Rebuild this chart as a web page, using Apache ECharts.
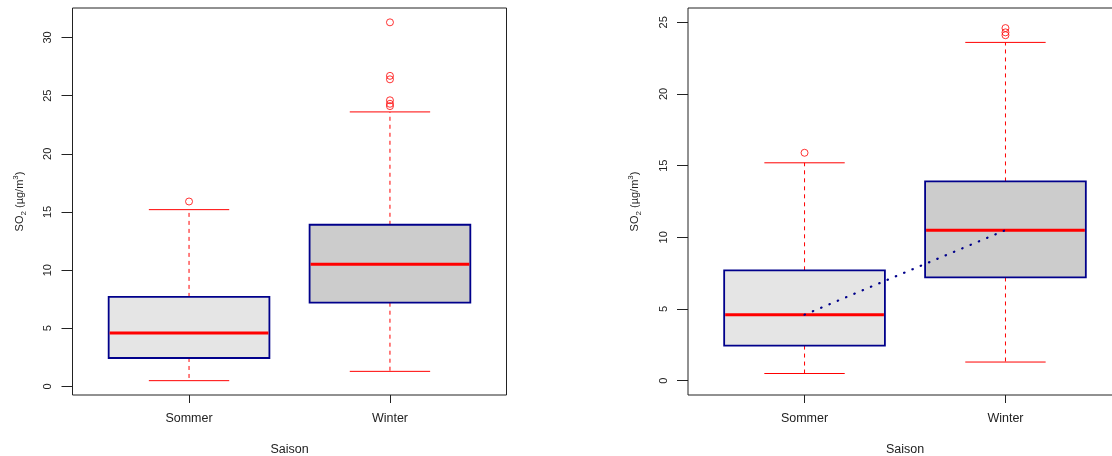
<!DOCTYPE html>
<html>
<head>
<meta charset="utf-8">
<script src="https://cdn.jsdelivr.net/npm/echarts@6/dist/echarts.min.js"></script>
<style>
  html, body { margin: 0; padding: 0; background: #fff; overflow: hidden; }
  #chart { width: 1140px; height: 456px; }
</style>
</head>
<body>
<div id="chart"></div>
<script>
// categories on the x axis (box positions 1 and 2)
const categories = ['Sommer', 'Winter']
const positions = [1, 2]
// [lower whisker, Q1, median, Q3, upper whisker]
const sommerStats = [0.5, 2.45, 4.6, 7.7, 15.2]
const winterStats = [1.3, 7.2, 10.5, 13.9, 23.6]
const sommerOutliers = [15.9]
const winterOutliers = [24.1, 24.3, 24.6, 26.4, 26.7, 31.3]
// y tick values
const leftTicks = [0, 5, 10, 15, 20, 25, 30]
const rightTicks = [0, 5, 10, 15, 20, 25]
const rightLimits = [0, 25]

const font = 'Liberation Sans, Arial, sans-serif'
const textColor = '#222'

// R style axis extension of 4 %
function extend(lo, hi) {
  const d = (hi - lo) * 0.04
  return [lo - d, hi + d]
}
const leftData = sommerStats.concat(winterStats, sommerOutliers, winterOutliers)
const leftRange = extend(Math.min(...leftData), Math.max(...leftData))
const rightRange = extend(rightLimits[0], rightLimits[1])
const xRange = extend(0.5, 2.5)

const boxData = [
  [positions[0]].concat(sommerStats),
  [positions[1]].concat(winterStats)
]
const boxFills = ['#e5e5e5', '#cccccc']
const outlierData = []
sommerOutliers.forEach(v => outlierData.push([positions[0], v]))
winterOutliers.forEach(v => outlierData.push([positions[1], v]))
const medianLine = boxData.map(d => [d[0], d[3]])

function renderBox(params, api) {
  const x = api.value(0)
  const low = api.coord([x, api.value(1)])
  const q1 = api.coord([x, api.value(2)])
  const med = api.coord([x, api.value(3)])
  const q3 = api.coord([x, api.value(4)])
  const high = api.coord([x, api.value(5)])
  const boxW = api.size([0.8, 0])[0]
  const capW = boxW / 2
  const cx = low[0]
  const whisker = { stroke: '#ff0000', lineWidth: 1, lineDash: [4, 4] }
  const cap = { stroke: '#ff0000', lineWidth: 1 }
  return {
    type: 'group',
    children: [
      { type: 'line', shape: { x1: cx, y1: q1[1], x2: cx, y2: low[1] }, style: whisker },
      { type: 'line', shape: { x1: cx, y1: q3[1], x2: cx, y2: high[1] }, style: whisker },
      { type: 'line', shape: { x1: cx - capW / 2, y1: low[1], x2: cx + capW / 2, y2: low[1] }, style: cap },
      { type: 'line', shape: { x1: cx - capW / 2, y1: high[1], x2: cx + capW / 2, y2: high[1] }, style: cap },
      {
        type: 'rect',
        shape: { x: cx - boxW / 2, y: q3[1], width: boxW, height: q1[1] - q3[1] },
        style: { fill: boxFills[params.dataIndex], stroke: '#00008b', lineWidth: 1.8 }
      },
      {
        type: 'line',
        shape: { x1: cx - boxW / 2 + 1, y1: med[1], x2: cx + boxW / 2 - 1, y2: med[1] },
        style: { stroke: '#ff0000', lineWidth: 3 }
      }
    ]
  }
}

function xAxisFor(gridIndex) {
  return {
    type: 'value',
    gridIndex,
    min: xRange[0],
    max: xRange[1],
    axisLine: { show: false, onZero: false },
    splitLine: { show: false },
    axisTick: { show: true, customValues: positions, length: 8, lineStyle: { color: textColor } },
    axisLabel: {
      customValues: positions,
      margin: 17,
      fontSize: 12.5,
      fontFamily: font,
      color: textColor,
      formatter: v => categories[Math.round(v) - 1]
    },
    name: 'Saison',
    nameLocation: 'middle',
    nameGap: 48,
    nameTextStyle: { fontSize: 12.5, fontFamily: font, color: textColor }
  }
}

function yAxisFor(gridIndex, range, ticks) {
  return {
    type: 'value',
    gridIndex,
    min: range[0],
    max: range[1],
    axisLine: { show: false, onZero: false },
    splitLine: { show: false },
    axisTick: { show: true, customValues: ticks, length: 11, lineStyle: { color: textColor } },
    axisLabel: {
      customValues: ticks,
      rotate: 90,
      margin: 19,
      fontSize: 11,
      fontFamily: font,
      color: textColor
    },
    name: '{a|SO}{sub|2}{a| (µg/m}{sup|3}{a|)}',
    nameLocation: 'middle',
    nameRotate: 90,
    nameGap: 45,
    nameTextStyle: {
      fontFamily: font,
      color: textColor,
      rich: {
        a: { fontSize: 11, fontFamily: font, color: textColor, lineHeight: 16 },
        sub: { fontSize: 8, fontFamily: font, color: textColor, verticalAlign: 'bottom', lineHeight: 16 },
        sup: { fontSize: 8, fontFamily: font, color: textColor, verticalAlign: 'top', lineHeight: 16 }
      }
    }
  }
}

const chart = echarts.init(document.getElementById('chart'))
const gridStyle = {
  show: true, borderColor: '#222', borderWidth: 1, backgroundColor: 'transparent',
  containLabel: false, outerBoundsMode: 'none'
}

chart.setOption({
  animation: false,
  grid: [
    Object.assign({ left: 72.5, top: 8, width: 434, height: 387 }, gridStyle),
    Object.assign({ left: 688, top: 8, width: 434, height: 387 }, gridStyle)
  ],
  xAxis: [xAxisFor(0), xAxisFor(1)],
  yAxis: [yAxisFor(0, leftRange, leftTicks), yAxisFor(1, rightRange, rightTicks)],
  series: [
    { type: 'custom', xAxisIndex: 0, yAxisIndex: 0, renderItem: renderBox, data: boxData, clip: true },
    {
      type: 'scatter', xAxisIndex: 0, yAxisIndex: 0, data: outlierData, clip: true,
      symbol: 'circle', symbolSize: 7,
      itemStyle: { color: 'transparent', borderColor: '#ff0000', borderWidth: 1 }
    },
    { type: 'custom', xAxisIndex: 1, yAxisIndex: 1, renderItem: renderBox, data: boxData, clip: true },
    {
      type: 'line', xAxisIndex: 1, yAxisIndex: 1, data: medianLine, z: 5,
      symbol: 'none',
      lineStyle: { color: '#00008b', width: 2.2, type: [0.5, 8.5], cap: 'round' }
    },
    {
      type: 'scatter', xAxisIndex: 1, yAxisIndex: 1, data: outlierData, clip: true,
      symbol: 'circle', symbolSize: 7,
      itemStyle: { color: 'transparent', borderColor: '#ff0000', borderWidth: 1 }
    }
  ]
})
</script>
</body>
</html>
